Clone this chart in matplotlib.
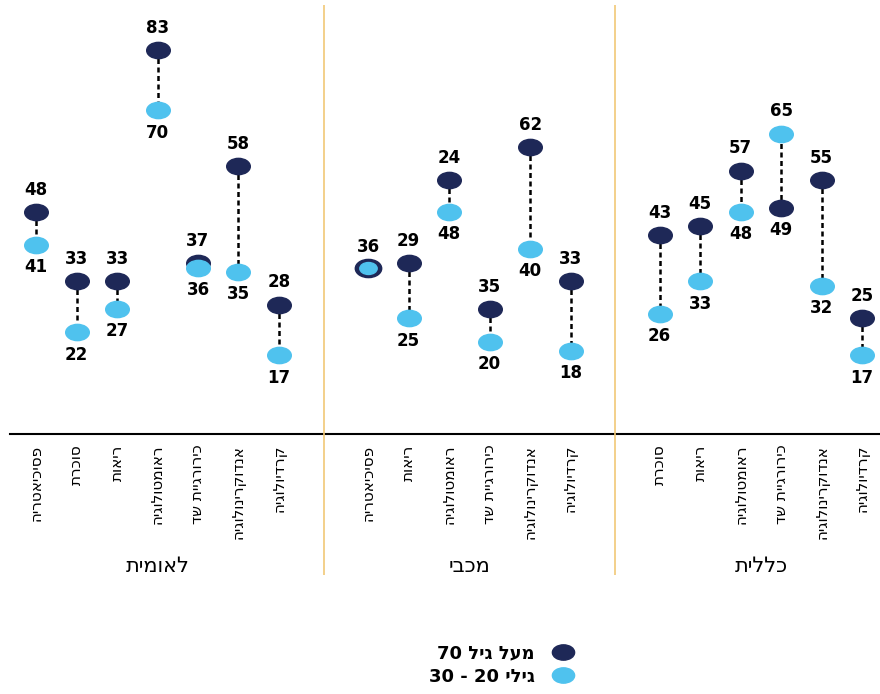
import matplotlib.pyplot as plt
from matplotlib.path import Path
from matplotlib.transforms import Affine2D
from matplotlib.lines import Line2D

# data (right-to-left groups shown left-to-right as in the source)
groups = ['לאומית', 'מכבי', 'כללית']
leumit_cats = ['פסיכיאטריה', 'סוכרת', 'ריאות', 'ראומטולוגיה', 'כירורגיית שד', 'אנדוקרינולוגיה', 'קרדיולוגיה']
leumit_old = [48, 33, 33, 83, 37, 58, 28]
leumit_young = [41, 22, 27, 70, 36, 35, 17]

maccabi_cats = ['פסיכיאטריה', 'ריאות', 'ראומטולוגיה', 'כירורגיית שד', 'אנדוקרינולוגיה', 'קרדיולוגיה']
maccabi_old = [36, 37, 55, 27, 62, 33]            # where the dots sit in the source
maccabi_old_labels = ['36', '29', '24', '35', '62', '33']  # what the source prints
maccabi_young = [36, 25, 48, 20, 40, 18]

clalit_cats = ['סוכרת', 'ריאות', 'ראומטולוגיה', 'כירורגיית שד', 'אנדוקרינולוגיה', 'קרדיולוגיה']
clalit_old = [43, 45, 57, 49, 55, 25]
clalit_young = [26, 33, 48, 65, 32, 17]

legend_labels = ['מעל גיל 70', 'גילי 20 - 30']

DARK = '#1e2857'
LIGHT = '#4fc2ee'
GOLD = '#f1c877'


def heb(s):
    # crude visual ordering for RTL text (matplotlib has no bidi)
    out = []
    for tok in s.split(' ')[::-1]:
        out.append(tok if tok.isdigit() or tok == '-' else tok[::-1])
    return ' '.join(out)


ellipse = Path.unit_circle().transformed(Affine2D().scale(1.45, 1.0))

plt.rcParams['font.family'] = ['DejaVu Sans']

fig = plt.figure(figsize=(8.8, 6.94), dpi=100)
ax = fig.add_axes([0, 1 - 434 / 694, 1, 434 / 694])
ax.set_xlim(-0.889, 20.84)
ax.set_ylim(0, 93.9)
ax.axis('off')

data = [
    (leumit_cats, leumit_old, [str(v) for v in leumit_old], leumit_young),
    (maccabi_cats, maccabi_old, maccabi_old_labels, maccabi_young),
    (clalit_cats, clalit_old, [str(v) for v in clalit_old], clalit_young),
]

gap = 2.2
start = 0
all_x, all_labels, centers, seps = [], [], [], []
for cats, old, old_lab, young in data:
    xs = [start + i for i in range(len(cats))]
    all_x += xs
    all_labels += cats
    centers.append((xs[0] + xs[-1]) / 2)
    seps.append(xs[-1] + gap / 2)
    for x, o, ol, y in zip(xs, old, old_lab, young):
        if o == y:
            # identical values: single ring marker
            ax.plot(x, o, marker=ellipse, ms=19, color=DARK, zorder=3)
            ax.plot(x, y, marker=ellipse, ms=12.5, color=LIGHT, zorder=4)
            ax.annotate(ol, (x, o), xytext=(0, 15), textcoords='offset points',
                        ha='center', va='center', fontsize=12, fontweight='bold')
            continue
        ax.plot([x, x], [o, y], color='black', lw=1.8, ls=(0, (2, 1.4)), zorder=2)
        ax.plot(x, o, marker=ellipse, ms=17, color=DARK, zorder=3)
        ax.plot(x, y, marker=ellipse, ms=17, color=LIGHT, zorder=4)
        up = 16 if o >= y else -16
        ax.annotate(ol, (x, o), xytext=(0, up), textcoords='offset points',
                    ha='center', va='center', fontsize=12, fontweight='bold')
        ax.annotate(str(y), (x, y), xytext=(0, -up), textcoords='offset points',
                    ha='center', va='center', fontsize=12, fontweight='bold')
    start = xs[-1] + gap

# baseline and separators
ax.axhline(0, xmin=10 / 880, xmax=1, color='black', lw=1.5, clip_on=False)
for s in seps[:-1]:
    ax.vlines(s, -30.5, 92.9, color=GOLD, lw=1.2, clip_on=False)

# category labels
for x, lab in zip(all_x, all_labels):
    ax.text(x, -2.3, heb(lab), rotation=90, ha='center', va='top',
            fontsize=11, clip_on=False)

for c, g in zip(centers, groups):
    ax.text(c, -28.6, heb(g), ha='center', va='center', fontsize=15, clip_on=False)

handles = [Line2D([], [], ls='none', marker=ellipse, ms=16, color=DARK),
           Line2D([], [], ls='none', marker=ellipse, ms=16, color=LIGHT)]
fig.legend(handles, [heb(t) for t in legend_labels], markerfirst=False, frameon=False,
           loc='center', bbox_to_anchor=(505 / 880, 1 - 665 / 694),
           prop={'size': 13, 'weight': 'bold'}, handletextpad=0.6, labelspacing=0.3)

fig.savefig('out.png', dpi=100)
